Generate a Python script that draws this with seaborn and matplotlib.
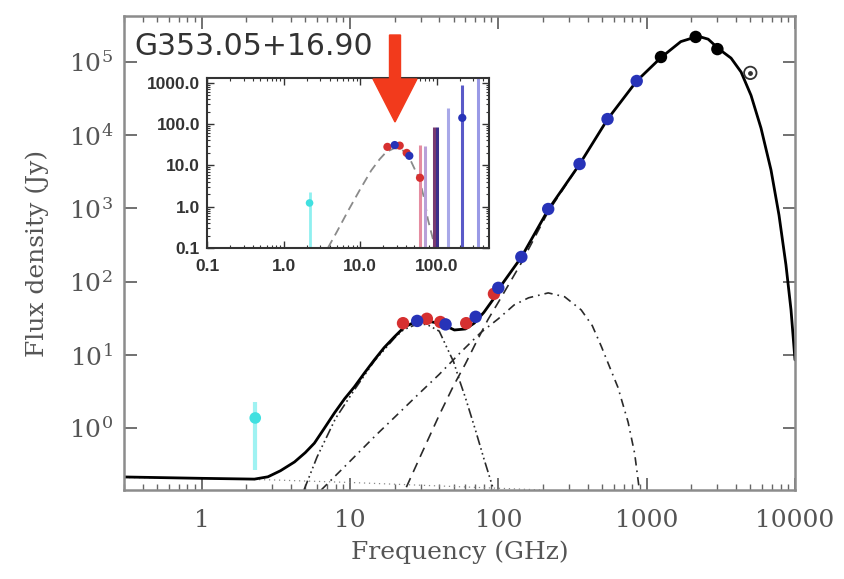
import numpy as np
import matplotlib
matplotlib.use("Agg")
import matplotlib.pyplot as plt
import matplotlib.patches as mpatches
from matplotlib.transforms import IdentityTransform
from matplotlib.ticker import FixedLocator, LogLocator, NullFormatter, FixedFormatter
import seaborn as sns

# --- data ---
# total model (solid)
tot_f = [0.3, 1.0, 2.27, 2.8, 3.4, 4.23, 5.0, 5.76, 6.7, 7.86, 9.2, 10.7, 12.5, 14.6, 17, 19.9, 23.3, 28, 33,
         41.2, 50.6, 60, 68.8, 80, 94, 100, 143, 217, 353, 545, 857, 1249, 1700, 2222, 2600, 3076, 3707, 4330,
         5054, 5900, 6890, 7800, 8690, 9400, 10000]
tot_s = [0.214, 0.205, 0.20, 0.215, 0.26, 0.343, 0.46, 0.62, 0.98, 1.6, 2.5, 3.63, 5.6, 8.5, 12.5, 17.5, 24,
         28.5, 29, 26.5, 21.8, 22.5, 27, 38, 60, 78, 215, 960, 4000, 16500, 55000, 115000, 190000, 225000,
         205000, 150000, 113000, 73000, 35000, 12500, 3350, 810, 169, 41, 8.5]

# spinning dust (AME) component
ame_f = [4.9, 6, 8, 10.7, 14.6, 20, 23, 28, 33, 40, 44.8, 50, 54.7, 60, 70, 80, 93]
ame_s = [0.142, 0.4, 1.35, 3.3, 8.2, 17, 22, 26, 26, 21, 12.8, 8, 4.5, 2.6, 0.95, 0.38, 0.142]

# CMB component
cmb_f = [6.4, 10, 15, 20, 30, 40, 55, 76, 100, 128, 160, 217, 280, 362, 430, 495, 560, 640, 750, 830, 890]
cmb_s = [0.142, 0.35, 0.8, 1.4, 3.1, 5.4, 10.5, 20, 31, 48, 60, 70, 62, 41, 25, 13, 7, 3.6, 1.2, 0.45, 0.15]

# thermal dust component
dust_f = [24, 30, 40, 50, 60, 70, 85, 100, 143, 217, 353]
dust_s = [0.155, 0.42, 1.5, 3.8, 7.5, 14, 30, 52, 180, 900, 4000]

# free-free component
ff_f = [0.3, 1, 3, 10, 30, 100, 200]
ff_s = [0.21, 0.205, 0.195, 0.18, 0.165, 0.15, 0.142]

# photometry
wmap_f = [22.8, 33.0, 40.7, 60.8, 93.5]
wmap_s = [27, 31, 28, 27, 68]
planck_f = [28.4, 44.1, 70.4, 100, 143, 217, 353, 545, 857]
planck_s = [29, 26, 33, 82, 217, 980, 4040, 16600, 55000]
dirbe_f = [1249, 2141, 2998]
dirbe_s = [117000, 220000, 150000]
iras_f = [4997]
iras_s = [71000]
spass_f = [2.3]
spass_s = [1.37]
spass_lo = [0.27]
spass_hi = [2.26]

# inset: AME residual spectrum
in_red_f = [22.8, 33.0, 40.7, 60.8]
in_red_s = [28, 30, 20, 5]
in_blue_f = [28.4, 44.1, 217]
in_blue_s = [31, 17, 141]
in_err_f = [60.8, 70.4, 93.5, 100, 143, 217, 353, 545]
in_err_top = [31, 29, 87, 87, 250, 890, 3000, 3000]
in_err_col = ["#e58ca0", "#b9a0d8", "#7a3a70", "#3c2f8a", "#a8a8e8", "#5a5ac8", "#9a9ae6", "#6a6ad0"]
in_cyan_f = [2.19]
in_cyan_s = [1.23]
in_cyan_hi = [2.27]
in_mod_f = [3.8, 5, 7, 10, 14, 18, 22, 28, 34, 40, 46, 52, 60, 70, 77, 90, 97]
in_mod_s = [0.1, 0.25, 0.8, 2.6, 7.5, 14, 21, 26, 25, 20, 13, 8, 4.5, 1.4, 0.5, 0.16, 0.1]

sns.set_theme(style="ticks")
plt.rcParams.update({
    "font.family": ["DejaVu Serif"],
    "mathtext.fontset": "dejavuserif",
    "axes.edgecolor": "#8c8c8c",
    "axes.linewidth": 1.8,
    "xtick.color": "#555555",
    "ytick.color": "#555555",
    "xtick.labelcolor": "#555555",
    "ytick.labelcolor": "#555555",
})

W, H = 844, 579
fig = plt.figure(figsize=(W / 100, H / 100), dpi=100)
ax = fig.add_axes([124 / W, 1 - 490 / H, 671 / W, 474 / H])
ax.set_xscale("log")
ax.set_yscale("log")

line_col = "#2a2a2a"
sns.lineplot(x=ff_f, y=ff_s, ax=ax, color="#8a8a8a", lw=0.9, linestyle=(0, (1, 3)), sort=False, estimator=None)
sns.lineplot(x=ame_f, y=ame_s, ax=ax, color=line_col, lw=1.2, linestyle=(0, (6, 2, 1, 2, 1, 2, 1, 2)), sort=False, estimator=None)
sns.lineplot(x=cmb_f, y=cmb_s, ax=ax, color=line_col, lw=1.2, linestyle=(0, (5, 3, 1, 3)), sort=False, estimator=None)
sns.lineplot(x=dust_f, y=dust_s, ax=ax, color=line_col, lw=1.2, linestyle=(0, (6, 4)), sort=False, estimator=None)
sns.lineplot(x=tot_f, y=tot_s, ax=ax, color="black", lw=2.0, sort=False, estimator=None)

# S-PASS point with error bar
ax.vlines(spass_f, spass_lo, spass_hi, color="#9ff2f2", lw=3, zorder=3)
sns.scatterplot(x=spass_f, y=spass_s, ax=ax, color="#40e0e0", s=70, edgecolor="none", zorder=4)
sns.scatterplot(x=wmap_f, y=wmap_s, ax=ax, color="#d63030", s=80, edgecolor="none", zorder=4)
sns.scatterplot(x=planck_f, y=planck_s, ax=ax, color="#2733b8", s=80, edgecolor="none", zorder=5)
sns.scatterplot(x=dirbe_f, y=dirbe_s, ax=ax, color="black", s=80, edgecolor="none", zorder=5)
ax.scatter(iras_f, iras_s, s=80, facecolor="none", edgecolor="#333333", lw=1.3, zorder=5)
ax.scatter(iras_f, iras_s, s=6, color="#333333", zorder=5)

ax.set_xlim(0.3, 10000)
ax.set_ylim(0.142, 4.25e5)
ax.xaxis.set_major_locator(FixedLocator([1, 10, 100, 1000, 10000]))
ax.xaxis.set_major_formatter(FixedFormatter(["1", "10", "100", "1000", "10000"]))
ax.xaxis.set_minor_locator(LogLocator(base=10, subs=np.arange(2, 10), numticks=20))
ax.xaxis.set_minor_formatter(NullFormatter())
ax.yaxis.set_major_locator(FixedLocator([1, 10, 100, 1e3, 1e4, 1e5]))
ax.yaxis.set_major_formatter(FixedFormatter([r"$10^{%d}$" % k for k in range(6)]))
ax.yaxis.set_minor_locator(FixedLocator([]))
ax.tick_params(which="both", direction="in", top=True, right=True, labelsize=18, color="#666666")
ax.tick_params(axis="x", pad=14)
ax.tick_params(axis="y", pad=8)
ax.tick_params(which="major", length=9, width=1.3)
ax.tick_params(which="minor", length=4, width=1.0)
ax.set_xlabel("Frequency (GHz)", fontsize=18, color="#555555", labelpad=6)
ax.set_ylabel("Flux density (Jy)", fontsize=18, color="#555555", labelpad=14)
ax.text(0.015, 0.935, "G353.05+16.90", transform=ax.transAxes, fontsize=21.5, color="#333333",
        family="DejaVu Sans", va="center", ha="left")

# --- inset ---
ins = fig.add_axes([207 / W, 1 - 248 / H, 282 / W, 170 / H])
ins.set_xscale("log")
ins.set_yscale("log")
for sp in ins.spines.values():
    sp.set_color("#333333")
    sp.set_linewidth(1.5)
sns.lineplot(x=in_mod_f, y=in_mod_s, ax=ins, color="#8a8a8a", lw=1.3, linestyle=(0, (5, 3)), sort=False, estimator=None)
ins.vlines(in_err_f, 0.01, in_err_top, colors=in_err_col, lw=2.2, zorder=2)
ins.vlines(in_cyan_f, 0.01, in_cyan_hi, color="#8ff0f0", lw=2, zorder=2)
sns.scatterplot(x=in_cyan_f, y=in_cyan_s, ax=ins, color="#40e0e0", s=30, edgecolor="none", zorder=4)
sns.scatterplot(x=in_red_f, y=in_red_s, ax=ins, color="#d63030", s=35, edgecolor="none", zorder=4)
sns.scatterplot(x=in_blue_f, y=in_blue_s, ax=ins, color="#2733b8", s=35, edgecolor="none", zorder=5)
ins.set_xlim(0.1, 485)
ins.set_ylim(0.1, 1300)
ins.xaxis.set_major_locator(FixedLocator([0.1, 1, 10, 100]))
ins.xaxis.set_major_formatter(FixedFormatter(["0.1", "1.0", "10.0", "100.0"]))
ins.xaxis.set_minor_locator(LogLocator(base=10, subs=np.arange(2, 10), numticks=20))
ins.xaxis.set_minor_formatter(NullFormatter())
ins.yaxis.set_major_locator(FixedLocator([0.1, 1, 10, 100, 1000]))
ins.yaxis.set_major_formatter(FixedFormatter(["0.1", "1.0", "10.0", "100.0", "1000.0"]))
ins.yaxis.set_minor_locator(LogLocator(base=10, subs=np.arange(2, 10), numticks=20))
ins.yaxis.set_minor_formatter(NullFormatter())
ins.tick_params(which="both", direction="in", top=True, right=True, labelsize=12.5, color="#333333",
                labelcolor="#333333")
ins.tick_params(axis="x", pad=8)
ins.tick_params(axis="y", pad=5)
ins.tick_params(which="major", length=5, width=1.0)
ins.tick_params(which="minor", length=2.5, width=0.8)
for lab in ins.get_xticklabels() + ins.get_yticklabels():
    lab.set_family("Liberation Sans")
    lab.set_fontweight("bold")

# red arrow pointing at the AME peak (pixel coordinates)
arrow = mpatches.FancyArrow(395, H - 35, 0, -87, width=11, head_width=44, head_length=43,
                            length_includes_head=True, color="#f23a1c", transform=IdentityTransform(), zorder=10)
fig.patches.append(arrow)

fig.savefig("out.png", dpi=100)
